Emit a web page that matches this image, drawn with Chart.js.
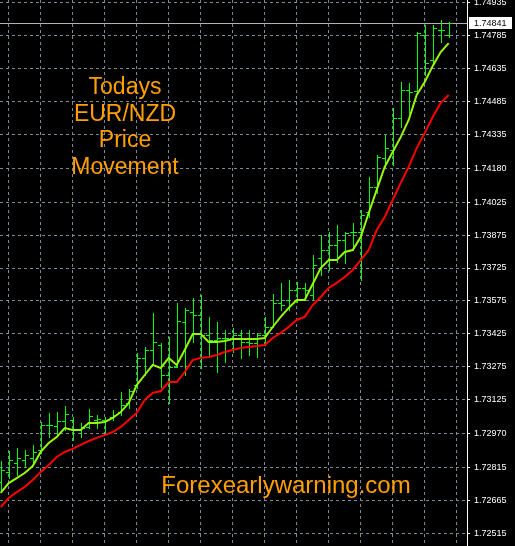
<!DOCTYPE html>
<html lang="en">
  <head>
    <title>EUR/NZD Price Movement</title>
    <meta charset="utf-8">
    <script src="https://cdn.jsdelivr.net/npm/chart.js@4.4.1/dist/chart.umd.min.js"></script>
    <style>
      body { margin: 0; background: #000; }
      canvas { display: block; }
    </style>
  </head>
  <body>
    <canvas id="chart_eurnzd" width="515" height="546"></canvas>

    <script>
      // one entry per bar, oldest on the left
      const opens = [1.72749, 1.72795, 1.72836, 1.72849, 1.72858, 1.72895, 1.73009, 1.73004, 1.73027, 1.73032,
                     1.72991, 1.73000, 1.73032, 1.73032, 1.73045, 1.73068, 1.73109, 1.73191, 1.73315, 1.73351,
                     1.73374, 1.73237, 1.73273, 1.73479, 1.73524, 1.73511, 1.73419, 1.73397, 1.73406, 1.73406,
                     1.73419, 1.73388, 1.73383, 1.73419, 1.73456, 1.73565, 1.73579, 1.73625, 1.73634, 1.73602,
                     1.73771, 1.73807, 1.73830, 1.73853, 1.73889, 1.73889, 1.73980, 1.74094, 1.74227, 1.74263,
                     1.74409, 1.74537, 1.74532, 1.74788, 1.74674, 1.74811, 1.74788];
      const highs = [1.72845, 1.72890, 1.72904, 1.72895, 1.72918, 1.73023, 1.73064, 1.73068, 1.73096, 1.73045,
                     1.73018, 1.73082, 1.73055, 1.73045, 1.73077, 1.73159, 1.73173, 1.73337, 1.73365, 1.73520,
                     1.73383, 1.73410, 1.73565, 1.73543, 1.73588, 1.73602, 1.73502, 1.73479, 1.73442, 1.73451,
                     1.73442, 1.73442, 1.73429, 1.73502, 1.73606, 1.73657, 1.73670, 1.73661, 1.73657, 1.73784,
                     1.73876, 1.73889, 1.73921, 1.73889, 1.73930, 1.73990, 1.74140, 1.74240, 1.74332, 1.74455,
                     1.74573, 1.74569, 1.74801, 1.74833, 1.74833, 1.74856, 1.74847];
      const lows = [1.72713, 1.72767, 1.72781, 1.72817, 1.72827, 1.72881, 1.72954, 1.72963, 1.72986, 1.72941,
                    1.72954, 1.72995, 1.72995, 1.72972, 1.73032, 1.73055, 1.73086, 1.73178, 1.73237, 1.73283,
                    1.73182, 1.73109, 1.73273, 1.73237, 1.73388, 1.73269, 1.73319, 1.73251, 1.73296, 1.73342,
                    1.73315, 1.73328, 1.73319, 1.73374, 1.73456, 1.73533, 1.73533, 1.73570, 1.73579, 1.73579,
                    1.73693, 1.73716, 1.73752, 1.73748, 1.73807, 1.73670, 1.73958, 1.74067, 1.74186, 1.74195,
                    1.74368, 1.74432, 1.74528, 1.74605, 1.74651, 1.74756, 1.74779];
      const closes = [1.72804, 1.72849, 1.72858, 1.72872, 1.72886, 1.73009, 1.73009, 1.73027, 1.73059, 1.72986,
                      1.72995, 1.73050, 1.73036, 1.73032, 1.73055, 1.73100, 1.73164, 1.73315, 1.73351, 1.73388,
                      1.73237, 1.73273, 1.73483, 1.73533, 1.73511, 1.73419, 1.73397, 1.73406, 1.73406, 1.73419,
                      1.73388, 1.73383, 1.73419, 1.73456, 1.73565, 1.73556, 1.73625, 1.73634, 1.73625, 1.73739,
                      1.73807, 1.73830, 1.73853, 1.73885, 1.73889, 1.73967, 1.74094, 1.74231, 1.74272, 1.74409,
                      1.74537, 1.74528, 1.74797, 1.74660, 1.74820, 1.74811, 1.74841];

      // moving averages as drawn on the chart
      const maFast = [1.72699, 1.72744, 1.72767, 1.72790, 1.72822, 1.72886, 1.72927, 1.72954, 1.72995, 1.72986,
                      1.72986, 1.73018, 1.73018, 1.73023, 1.73041, 1.73068, 1.73109, 1.73191, 1.73237, 1.73283,
                      1.73269, 1.73315, 1.73283, 1.73351, 1.73424, 1.73424, 1.73388, 1.73388, 1.73392, 1.73401,
                      1.73401, 1.73401, 1.73401, 1.73406, 1.73456, 1.73502, 1.73543, 1.73579, 1.73579, 1.73652,
                      1.73725, 1.73761, 1.73761, 1.73798, 1.73807, 1.73866, 1.73976, 1.74081, 1.74186, 1.74254,
                      1.74322, 1.74400, 1.74514, 1.74573, 1.74646, 1.74710, 1.74751];
      const maSlow = [1.72635, 1.72676, 1.72703, 1.72726, 1.72758, 1.72795, 1.72827, 1.72863, 1.72886, 1.72900,
                      1.72918, 1.72936, 1.72950, 1.72963, 1.72977, 1.73000, 1.73032, 1.73064, 1.73123, 1.73155,
                      1.73164, 1.73205, 1.73205, 1.73250, 1.73305, 1.73315, 1.73319, 1.73328, 1.73342, 1.73351,
                      1.73360, 1.73365, 1.73369, 1.73374, 1.73406, 1.73429, 1.73456, 1.73488, 1.73502, 1.73556,
                      1.73593, 1.73634, 1.73657, 1.73684, 1.73716, 1.73761, 1.73807, 1.73898, 1.73958, 1.74035,
                      1.74113, 1.74186, 1.74272, 1.74341, 1.74414, 1.74478, 1.74514];

      const priceLabels = ["1.72515", "1.72665", "1.72815", "1.72970", "1.73125", "1.73275", "1.73425", "1.73575",
                           "1.73725", "1.73875", "1.74025", "1.74180", "1.74335", "1.74485", "1.74635", "1.74785",
                           "1.74935"];
      const lastPrice = "1.74841";
      const titleLines = ["Todays", "EUR/NZD", "Price", "Movement"];
      const siteText = "Forexearlywarning.com";

      const gridColor = "rgb(119,136,153)";
      const barColor = "rgb(0,255,0)";

      // draws the high/low bars with open and close ticks, plus the bid line
      const ohlcBars = {
        id: "ohlcBars",
        beforeDatasetsDraw(chart) {
          const ctx = chart.ctx;
          const x = chart.scales.x, y = chart.scales.y, area = chart.chartArea;
          ctx.save();
          const by = Math.round(y.getPixelForValue(closes[closes.length - 1]));
          ctx.fillStyle = "rgb(176,176,176)";
          ctx.fillRect(area.left, by, area.right - area.left, 1);

          ctx.fillStyle = barColor;
          for (let i = 0; i < opens.length; i++) {
            const c = Math.round(x.getPixelForValue(i));
            const yh = Math.round(y.getPixelForValue(highs[i]));
            const yl = Math.round(y.getPixelForValue(lows[i]));
            const yo = Math.round(y.getPixelForValue(opens[i]));
            const yc = Math.round(y.getPixelForValue(closes[i]));
            ctx.fillRect(c, yh, 1, yl - yh + 1);
            ctx.fillRect(c - 3, yo, 3, 1);
            ctx.fillRect(c + 1, yc, 3, 1);
          }
          ctx.restore();
        },
        afterDraw(chart) {
          const ctx = chart.ctx;
          const y = chart.scales.y, area = chart.chartArea;
          ctx.save();
          // current price box on the axis
          const by = Math.round(y.getPixelForValue(parseFloat(lastPrice)));
          ctx.fillStyle = "#fff";
          ctx.fillRect(area.right + 2, by - 6, 43, 12);
          ctx.fillStyle = "#000";
          ctx.font = '9px "Liberation Sans", Arial, sans-serif';
          ctx.textAlign = "left";
          ctx.textBaseline = "middle";
          ctx.fillText(lastPrice, area.right + 7, by + 0.5);

          // orange captions
          ctx.fillStyle = "rgb(255,160,0)";
          ctx.textAlign = "center";
          ctx.textBaseline = "alphabetic";
          ctx.font = '23px "Liberation Sans", Arial, sans-serif';
          const baselines = [94, 121, 147, 174];
          titleLines.forEach((t, i) => ctx.fillText(t, 125, baselines[i]));
          ctx.font = '24px "Liberation Sans", Arial, sans-serif';
          ctx.fillText(siteText, 286, 493);
          ctx.restore();
        }
      };

      const chart = new Chart("chart_eurnzd", {
        type: "line",
        data: {
          datasets: [
            {
              // slow moving average
              data: maSlow.map((v, i) => ({x: i, y: v})),
              borderColor: "rgb(255,0,0)",
              borderWidth: 2,
              pointRadius: 0,
              tension: 0
            },
            {
              // fast moving average
              data: maFast.map((v, i) => ({x: i, y: v})),
              borderColor: "rgb(150,250,10)",
              borderWidth: 2,
              pointRadius: 0,
              tension: 0
            }
          ]
        },
        options: {
          responsive: false,
          animation: false,
          devicePixelRatio: 1,
          layout: {padding: 0},
          plugins: {legend: {display: false}, tooltip: {enabled: false}},
          scales: {
            x: {
              type: "linear",
              min: -0.0875,
              max: 58.2875,
              afterBuildTicks: s => {
                const t = [];
                for (let v = 1; v <= 57; v += 4) t.push({value: v});
                s.ticks = t;
              },
              afterFit: s => { s.height = 0; s.paddingLeft = 0; s.paddingRight = 0; },
              ticks: {display: false},
              grid: {color: gridColor, drawTicks: false},
              border: {display: false, dash: [3, 3]}
            },
            y: {
              type: "linear",
              position: "right",
              min: 1.724571,
              max: 1.749473,
              afterBuildTicks: s => { s.ticks = priceLabels.map(v => ({value: parseFloat(v)})); },
              afterFit: s => { s.width = 48; s.paddingTop = 0; s.paddingBottom = 0; },
              ticks: {
                autoSkip: false,
                color: "#fff",
                padding: 4,
                font: {family: '"Liberation Sans", Arial, sans-serif', size: 9},
                callback: (v, i) => priceLabels[i]
              },
              grid: {color: gridColor, tickColor: "#fff", tickLength: 3},
              border: {color: "#fff", width: 1, dash: [3, 3]}
            }
          }
        },
        plugins: [ohlcBars]
      });
    </script>
  </body>
</html>
